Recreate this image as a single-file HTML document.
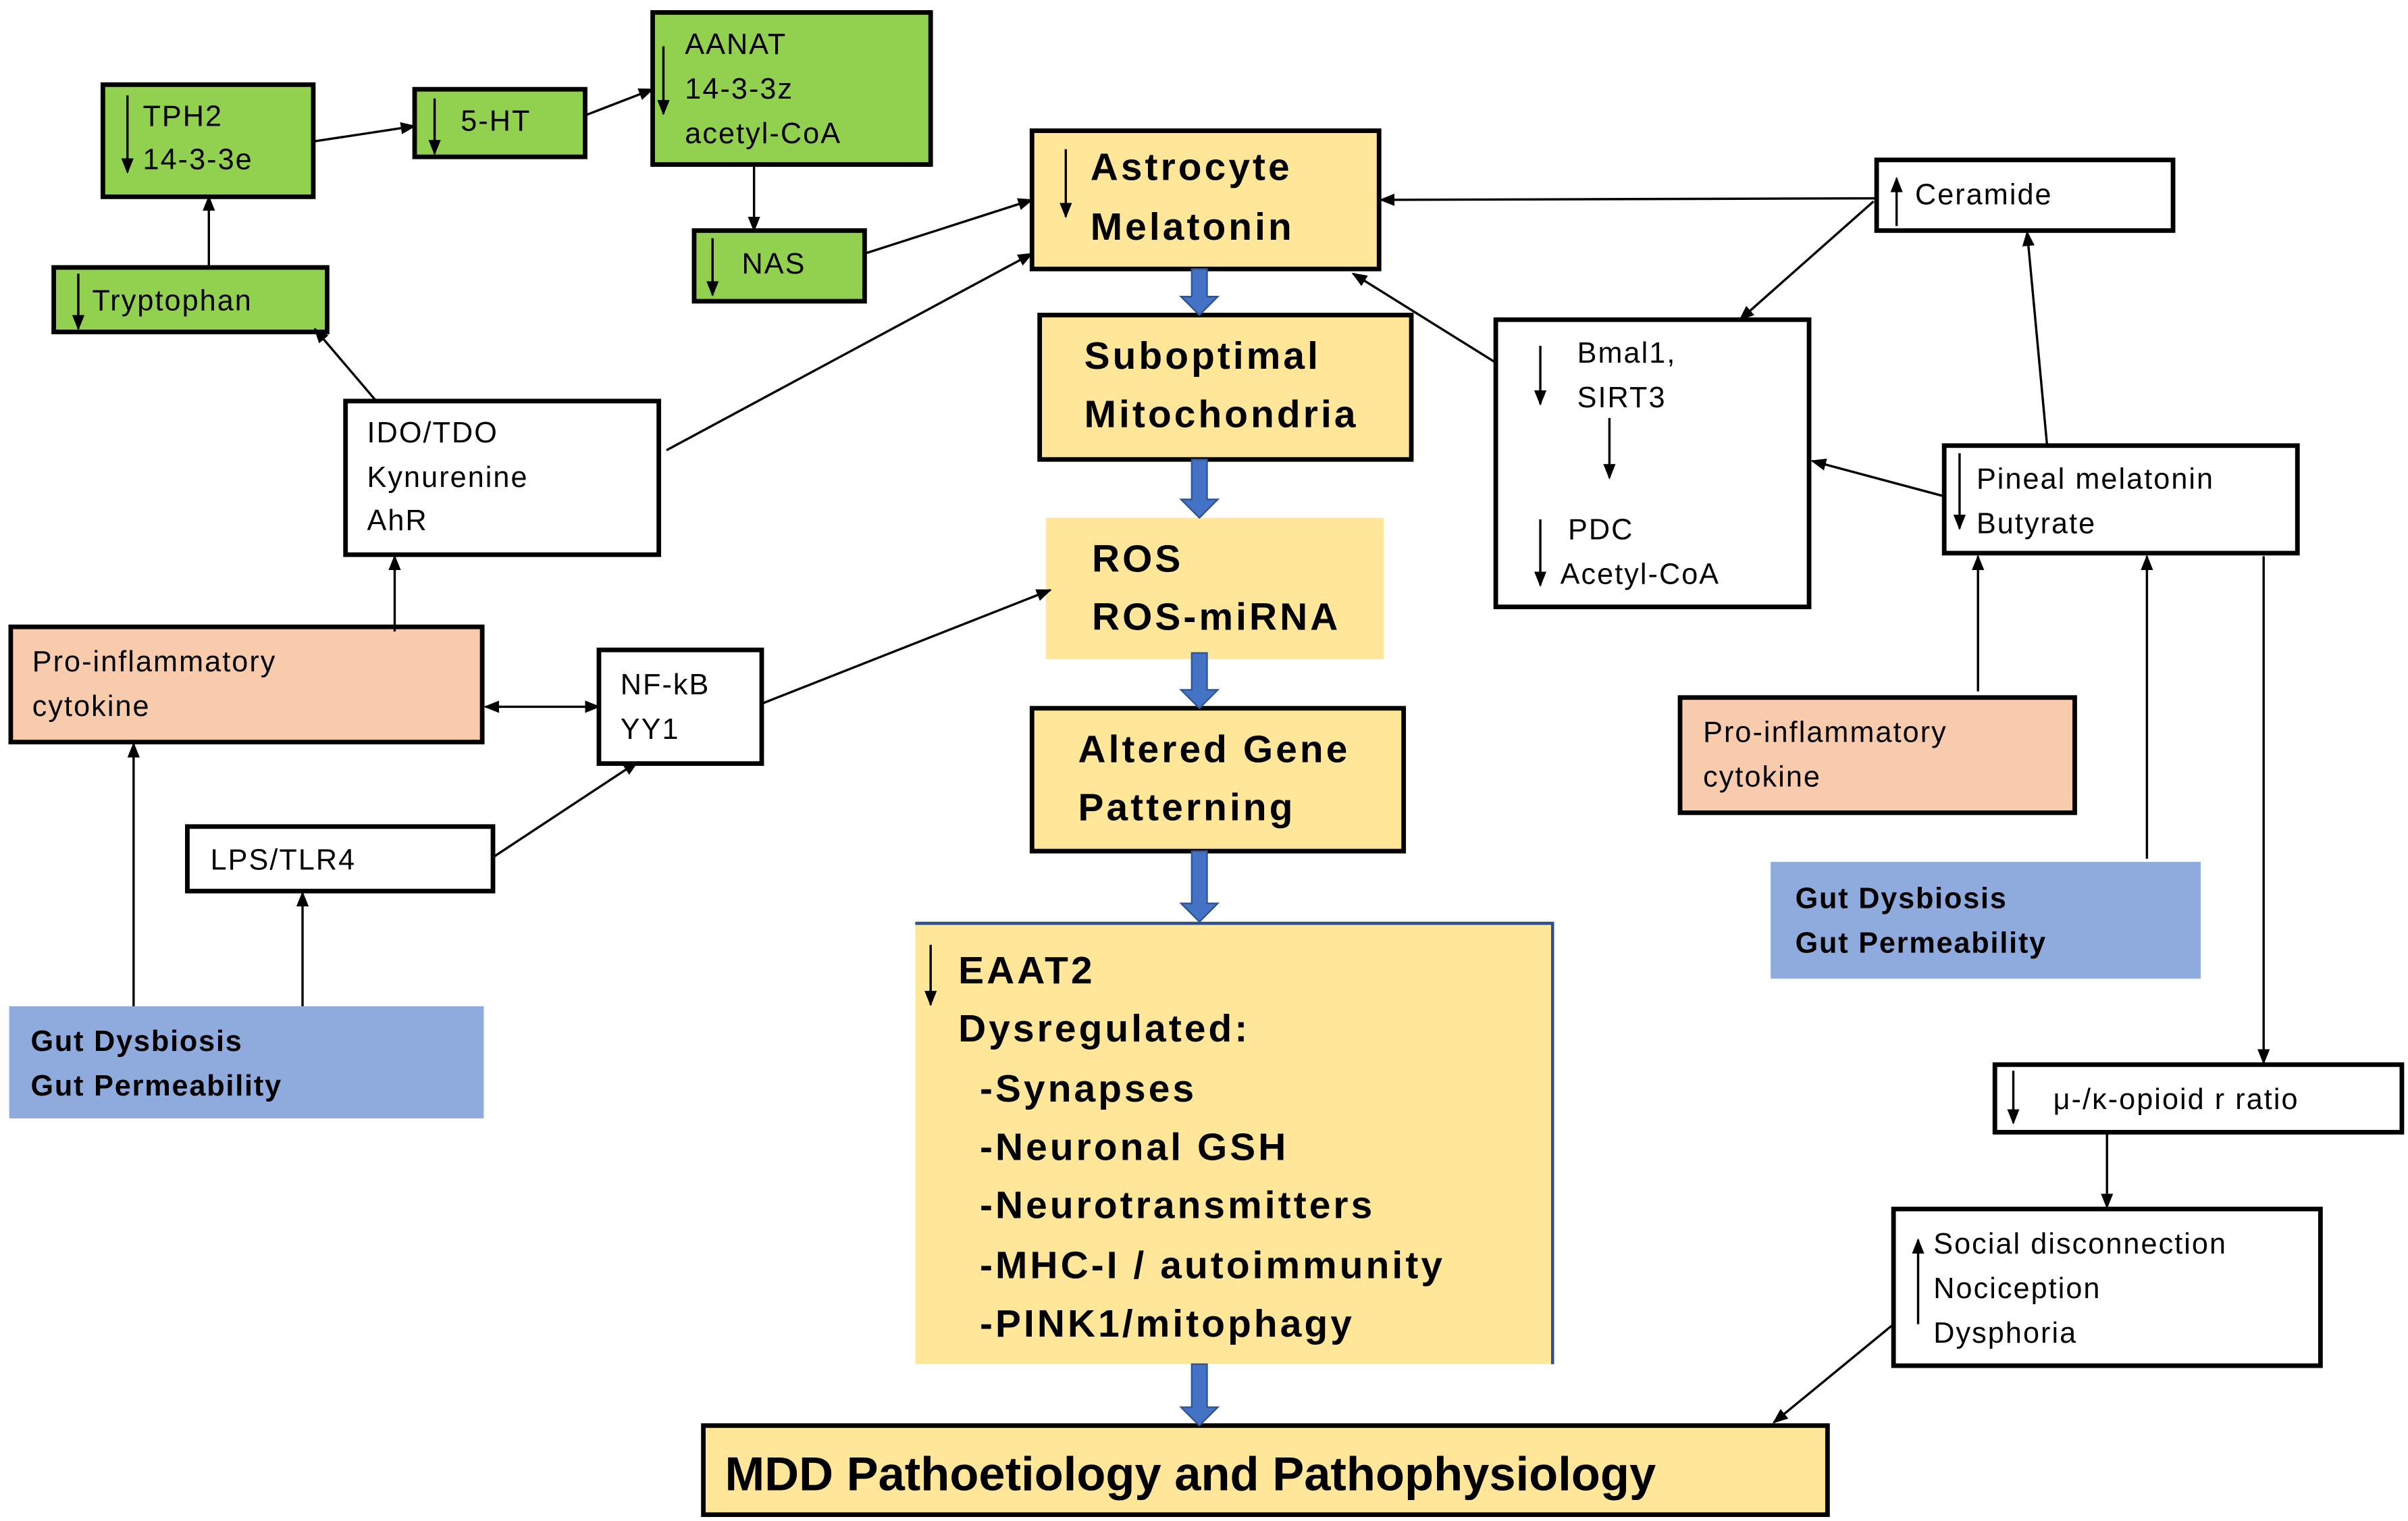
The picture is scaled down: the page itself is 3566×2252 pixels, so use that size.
<!DOCTYPE html>
<html><head><meta charset="utf-8"><style>
html,body{margin:0;padding:0;background:#fff;}
svg{display:block;}
text{font-family:"Liberation Sans",sans-serif;fill:#000;}
.s{font-size:19px;letter-spacing:0.9px;}
.b{font-size:25px;font-weight:bold;letter-spacing:1.8px;}
.g{font-size:19px;font-weight:bold;letter-spacing:0.8px;}
</style></head><body>
<svg width="3566" height="2252" viewBox="0 0 1568 990" xmlns="http://www.w3.org/2000/svg">
<defs>
<marker id="a" markerWidth="10" markerHeight="10" refX="9" refY="5" orient="auto" markerUnits="userSpaceOnUse"><path d="M0,1 L10,5 L0,9 z" fill="#000"/></marker>
<marker id="a2" markerWidth="10" markerHeight="10" refX="1" refY="5" orient="auto" markerUnits="userSpaceOnUse"><path d="M10,1 L0,5 L10,9 z" fill="#000"/></marker>
</defs>
<g stroke="#000" stroke-width="3">
<rect x="67" y="55" width="137" height="73" fill="#92d050"/>
<rect x="270" y="58" width="111" height="44" fill="#92d050"/>
<rect x="425" y="8" width="181" height="99" fill="#92d050"/>
<rect x="452" y="150" width="111" height="46" fill="#92d050"/>
<rect x="35" y="174" width="178" height="42" fill="#92d050"/>
<rect x="225" y="261" width="204" height="100" fill="#fff"/>
<rect x="7" y="408" width="307" height="75" fill="#f8cbad"/>
<rect x="390" y="423" width="106" height="74" fill="#fff"/>
<rect x="122" y="538" width="199" height="42" fill="#fff"/>
<rect x="672" y="85" width="226" height="90" fill="#ffe699"/>
<rect x="677" y="205" width="242" height="94" fill="#ffe699"/>
<rect x="672" y="461" width="242" height="93" fill="#ffe699"/>
<rect x="458" y="928" width="732" height="58" fill="#ffe699"/>
<rect x="1222" y="104" width="193" height="46" fill="#fff"/>
<rect x="974" y="208" width="204" height="187" fill="#fff"/>
<rect x="1266" y="290" width="230" height="70" fill="#fff"/>
<rect x="1094" y="454" width="257" height="75" fill="#f8cbad"/>
<rect x="1299" y="693" width="265" height="44" fill="#fff"/>
<rect x="1233" y="787" width="278" height="102" fill="#fff"/>
</g>
<rect x="6" y="655" width="309" height="73" fill="#8faadc"/>
<rect x="681" y="337" width="220" height="92" fill="#ffe699"/>
<rect x="1153" y="561" width="280" height="76" fill="#8faadc"/>
<rect x="596" y="600" width="415" height="288" fill="#ffe699"/>
<path d="M596,601 H1011 V888" stroke="#2f4f8f" stroke-width="2" fill="none"/>

<g fill="#4472c4" stroke="#2f528f" stroke-width="1">
<path d="M776,175 h10 v18 h7 l-12,12 l-12,-12 h7 z"/>
<path d="M776,299 h10 v26 h7 l-12,12 l-12,-12 h7 z"/>
<path d="M776,425 h10 v24 h7 l-12,12 l-12,-12 h7 z"/>
<path d="M776,554 h10 v34 h7 l-12,12 l-12,-12 h7 z"/>
<path d="M776,888 h10 v28 h7 l-12,12 l-12,-12 h7 z"/>
</g>

<g stroke="#000" stroke-width="1.5" fill="none" marker-end="url(#a)">
<line x1="204" y1="92" x2="270" y2="82"/>
<line x1="381" y1="75" x2="425" y2="58"/>
<line x1="491" y1="107" x2="491" y2="150"/>
<line x1="136" y1="174" x2="136" y2="128"/>
<line x1="245" y1="261" x2="205" y2="214"/>
<line x1="563" y1="165" x2="672" y2="130"/>
<line x1="434" y1="293" x2="672" y2="165"/>
<line x1="257" y1="411" x2="257" y2="362"/>
<line x1="316" y1="460" x2="390" y2="460" marker-start="url(#a2)"/>
<line x1="87" y1="655" x2="87" y2="484"/>
<line x1="197" y1="655" x2="197" y2="581"/>
<line x1="321" y1="558" x2="415" y2="496"/>
<line x1="496" y1="458" x2="684" y2="384"/>
<line x1="1222" y1="129" x2="899" y2="130"/>
<line x1="1220" y1="131" x2="1133" y2="208"/>
<line x1="974" y1="236" x2="881" y2="178"/>
<line x1="1333" y1="290" x2="1320" y2="151"/>
<line x1="1266" y1="323" x2="1180" y2="300"/>
<line x1="1288" y1="450" x2="1288" y2="362"/>
<line x1="1398" y1="559" x2="1398" y2="362"/>
<line x1="1474" y1="362" x2="1474" y2="692"/>
<line x1="1372" y1="737" x2="1372" y2="786"/>
<line x1="1233" y1="862" x2="1155" y2="926"/>
<line x1="83" y1="62" x2="83" y2="112"/>
<line x1="283" y1="64" x2="283" y2="100"/>
<line x1="432" y1="30" x2="432" y2="74"/>
<line x1="464" y1="155" x2="464" y2="192"/>
<line x1="51" y1="178" x2="51" y2="214"/>
<line x1="694" y1="97" x2="694" y2="141"/>
<line x1="606" y1="615" x2="606" y2="654"/>
<line x1="1003" y1="225" x2="1003" y2="263"/>
<line x1="1048" y1="272" x2="1048" y2="311"/>
<line x1="1003" y1="338" x2="1003" y2="381"/>
<line x1="1276" y1="295" x2="1276" y2="344"/>
<line x1="1311" y1="697" x2="1311" y2="731"/>
<line x1="1235" y1="147" x2="1235" y2="116"/>
<line x1="1249" y1="862" x2="1249" y2="807"/>
</g>

<text class="s" x="93" y="82">TPH2</text>
<text class="s" x="93" y="110">14-3-3e</text>
<text class="s" x="300" y="85">5-HT</text>
<text class="s" x="446" y="35">AANAT</text>
<text class="s" x="446" y="64">14-3-3z</text>
<text class="s" x="446" y="93">acetyl-CoA</text>
<text class="s" x="483" y="178">NAS</text>
<text class="s" x="60" y="202">Tryptophan</text>
<text class="s" x="239" y="288">IDO/TDO</text>
<text class="s" x="239" y="317">Kynurenine</text>
<text class="s" x="239" y="345">AhR</text>
<text class="s" x="21" y="437">Pro-inflammatory</text>
<text class="s" x="21" y="466">cytokine</text>
<text class="s" x="404" y="452">NF-kB</text>
<text class="s" x="404" y="481">YY1</text>
<text class="s" x="137" y="566">LPS/TLR4</text>
<text class="g" x="20" y="684">Gut Dysbiosis</text>
<text class="g" x="20" y="713">Gut  Permeability</text>
<text class="b" x="710" y="117">Astrocyte</text>
<text class="b" x="710" y="156">Melatonin</text>
<text class="b" x="706" y="240">Suboptimal</text>
<text class="b" x="706" y="278">Mitochondria</text>
<text class="b" x="711" y="372">ROS</text>
<text class="b" x="711" y="410">ROS-miRNA</text>
<text class="b" x="702" y="496">Altered Gene</text>
<text class="b" x="702" y="534">Patterning</text>
<text class="b" x="624" y="640">EAAT2</text>
<text class="b" x="624" y="678">Dysregulated:</text>
<text class="b" x="638" y="717">-Synapses</text>
<text class="b" x="638" y="755">-Neuronal GSH</text>
<text class="b" x="638" y="793">-Neurotransmitters</text>
<text class="b" x="638" y="832">-MHC-I / autoimmunity</text>
<text class="b" x="638" y="870">-PINK1/mitophagy</text>
<text x="472" y="970" style="font-size:31px;font-weight:bold">MDD Pathoetiology and Pathophysiology</text>
<text class="s" x="1247" y="133">Ceramide</text>
<text class="s" x="1027" y="236">Bmal1,</text>
<text class="s" x="1027" y="265">SIRT3</text>
<text class="s" x="1021" y="351">PDC</text>
<text class="s" x="1016" y="380">Acetyl-CoA</text>
<text class="s" x="1287" y="318">Pineal melatonin</text>
<text class="s" x="1287" y="347">Butyrate</text>
<text class="s" x="1109" y="483">Pro-inflammatory</text>
<text class="s" x="1109" y="512">cytokine</text>
<text class="g" x="1169" y="591">Gut Dysbiosis</text>
<text class="g" x="1169" y="620">Gut Permeability</text>
<text class="s" x="1337" y="722">μ-/κ-opioid r ratio</text>
<text class="s" x="1259" y="816">Social disconnection</text>
<text class="s" x="1259" y="845">Nociception</text>
<text class="s" x="1259" y="874">Dysphoria</text>
</svg>
</body></html>
